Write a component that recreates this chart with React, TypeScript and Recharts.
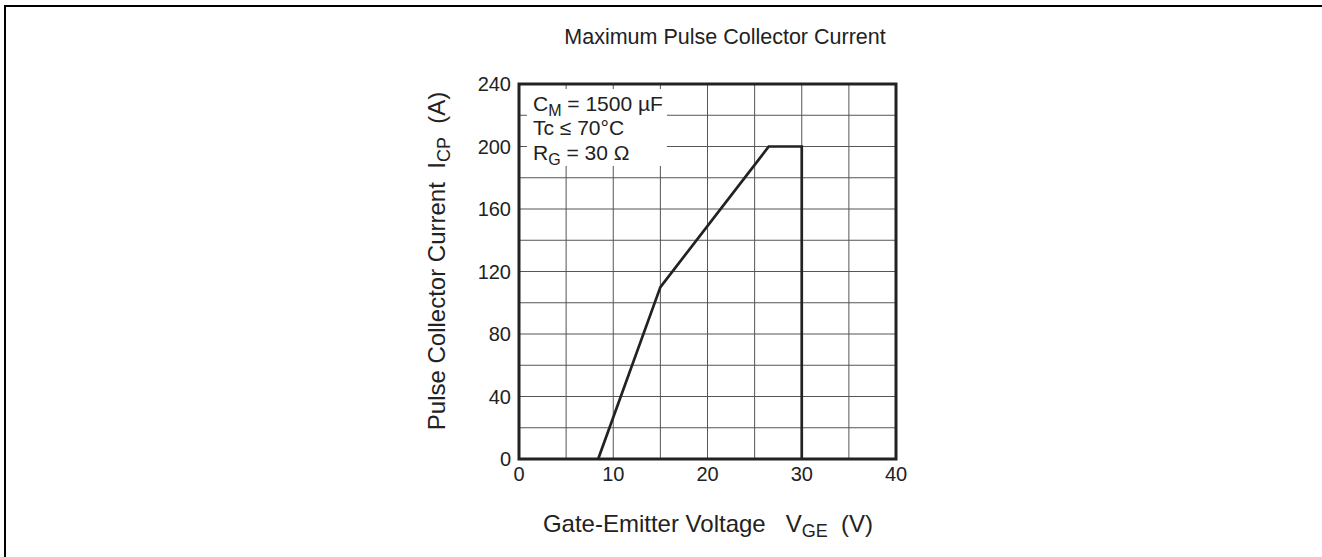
import React from "react"
import { LineChart, Line, XAxis, YAxis, CartesianGrid, ReferenceArea } from "recharts"

// V_GE (V) vs I_CP (A)
const vge = [8.4, 15, 26.5, 30, 30]
const icp = [0, 110, 200, 200, 0]
const xTicks = [0, 5, 10, 15, 20, 25, 30, 35, 40]
const yTicks = [0, 20, 40, 60, 80, 100, 120, 140, 160, 180, 200, 220, 240]

const data = vge.map((v, i) => ({ v, i: icp[i] }))

const FONT = "'Liberation Sans', Arial, Helvetica, sans-serif"

const W = 1322
const H = 557
const PLOT = { left: 519, top: 84, right: 896, bottom: 459 }
const Y_AXIS_W = 60
const X_AXIS_H = 30

const Sub = ({ size, children }: { size: number; children: React.ReactNode }) => (
  <span style={{ fontSize: size, position: "relative", top: 5, lineHeight: 0 }}>{children}</span>
)

export default function App() {
  return (
    <div style={{ position: "fixed", left: 0, top: 0, width: W, height: H, overflow: "hidden", background: "#fff", fontFamily: FONT }}>
      <div style={{ position: "absolute", left: 4, top: 5, width: W + 40, height: H + 40, border: "2.5px solid #000" }} />
      <div style={{ position: "absolute", left: 725 - 300, width: 600, top: 25, textAlign: "center", fontSize: 21.5, lineHeight: "normal", color: "#222" }}>
        Maximum Pulse Collector Current
      </div>
      <LineChart
        width={W}
        height={H}
        data={data}
        style={{ position: "absolute", left: 0, top: 0 }}
        margin={{ top: PLOT.top, left: PLOT.left - Y_AXIS_W, right: W - PLOT.right, bottom: H - PLOT.bottom - X_AXIS_H }}
      >
        <CartesianGrid stroke="#555" strokeWidth={1} />
        <XAxis
          dataKey="v"
          type="number"
          domain={[0, 40]}
          ticks={xTicks}
          height={X_AXIS_H}
          tickFormatter={(t: number) => (t % 10 === 0 ? String(t) : "")}
          tickLine={false}
          axisLine={false}
          tick={{ fill: "#222", fontSize: 20, fontFamily: FONT }}
          interval={0}
        />
        <YAxis
          dataKey="i"
          type="number"
          domain={[0, 240]}
          ticks={yTicks}
          width={Y_AXIS_W}
          tickFormatter={(t: number) => (t % 40 === 0 ? String(t) : "")}
          tickLine={false}
          axisLine={false}
          tick={{ fill: "#222", fontSize: 20, fontFamily: FONT }}
          interval={0}
        />
        <ReferenceArea x1={0.85} x2={15.7} y1={187.5} y2={236.8} fill="#fff" fillOpacity={1} stroke="none" />
        <Line
          type="linear"
          dataKey="i"
          stroke="#222"
          strokeWidth={2.7}
          dot={false}
          isAnimationActive={false}
        />
        <ReferenceArea x1={0} x2={40} y1={0} y2={240} fill="none" stroke="#222" strokeWidth={3} />
      </LineChart>
      <div style={{ position: "absolute", left: 533, top: 91.5, fontSize: 21, lineHeight: "24.5px", color: "#222", whiteSpace: "pre" }}>
        <div>C<Sub size={16}>M</Sub> = 1500 µF</div>
        <div>Tc ≤ 70°C</div>
        <div>R<Sub size={16}>G</Sub> = 30 Ω</div>
      </div>
      <div style={{ position: "absolute", left: 708 - 300, width: 600, top: 510, textAlign: "center", fontSize: 24, lineHeight: "normal", color: "#222", whiteSpace: "pre" }}>
        {"Gate-Emitter Voltage   V"}
        <Sub size={18}>GE</Sub>
        {"  (V)"}
      </div>
      <div
        style={{
          position: "absolute",
          left: 437,
          top: 261,
          transform: "translate(-50%, -50%) rotate(-90deg)",
          fontSize: 24,
          lineHeight: "normal",
          color: "#222",
          whiteSpace: "pre",
        }}
      >
        {"Pulse Collector Current  I"}
        <Sub size={18}>CP</Sub>
        {"  (A)"}
      </div>
    </div>
  )
}
